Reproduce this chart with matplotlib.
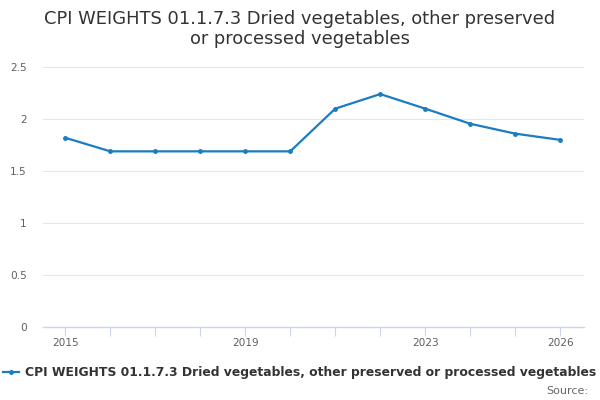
import matplotlib
matplotlib.use("Agg")
import matplotlib.pyplot as plt

years = list(range(2015, 2027))
values = [1.82, 1.69, 1.69, 1.69, 1.69, 1.69, 2.10, 2.24, 2.10, 1.955, 1.86, 1.80]
label_years = [2015, 2019, 2023, 2026]
yticks = [0, 0.5, 1, 1.5, 2, 2.5]
ytick_labels = ["0", "0.5", "1", "1.5", "2", "2.5"]
title_lines = ["CPI WEIGHTS 01.1.7.3 Dried vegetables, other preserved",
               "or processed vegetables"]
series_name = "CPI WEIGHTS 01.1.7.3 Dried vegetables, other preserved or processed vegetables"

plt.rcParams['font.family'] = ['DejaVu Sans']
fig = plt.figure(figsize=(6, 4), dpi=100)
ax = fig.add_axes([43.3/600, 1-327.3/400, (584-43.3)/600, (327.3-67)/400])

color = "#1a7cc1"
line, = ax.plot(years, values, color=color, lw=1.6, marker='o', ms=2.5, label=series_name)

ax.set_ylim(0, 2.5)
ax.set_xlim(2014.51, 2026.53)
ax.set_yticks(yticks)
ax.set_yticklabels(ytick_labels)
ax.set_xticks(years)
ax.set_xticklabels([str(y) if y in label_years else "" for y in years])
ax.grid(axis='y', color='#e6e6e6', lw=0.8)
ax.set_axisbelow(True)
for s in ['top', 'right', 'left']:
    ax.spines[s].set_visible(False)
ax.spines['bottom'].set_color('#ccd6eb')
ax.spines['bottom'].set_linewidth(1)
ax.tick_params(axis='x', length=6.5, color='#ccd6eb', labelsize=7.6, labelcolor='#606060', pad=1.5)
ax.tick_params(axis='y', length=0, labelsize=7.6, labelcolor='#606060', pad=12)

fig.text(0.5, 1-24.5/400, title_lines[0], ha='center', va='baseline', fontsize=12.9, color='#333333')
fig.text(0.5, 1-44/400, title_lines[1], ha='center', va='baseline', fontsize=12.9, color='#333333')

leg = fig.legend(handles=[line], loc='center', bbox_to_anchor=(299.5/600, 1-372.5/400), frameon=False,
                 prop={'weight': 'bold', 'size': 8.9}, handlelength=1.26, handletextpad=0.48,
                 borderaxespad=0, borderpad=0)
for t in leg.get_texts():
    t.set_color('#333333')
fig.text(588/600, 1-391/400, "Source:", ha='right', va='center', fontsize=8, color='#666666')

fig.savefig("out.png", dpi=100)
